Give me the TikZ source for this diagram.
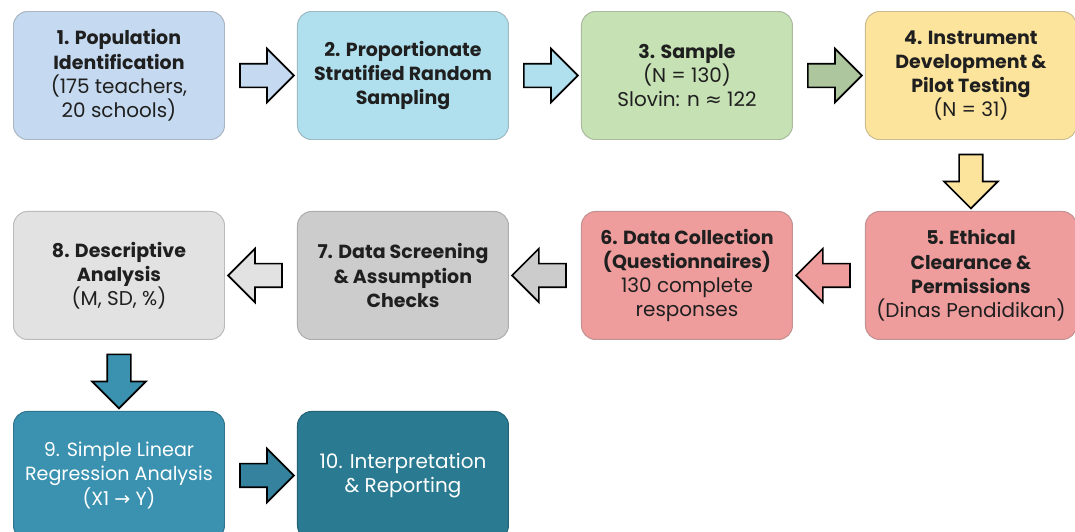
\documentclass[tikz,border=0pt]{standalone}
\usepackage{fontspec}
\setmainfont{Poppins}
\newfontfamily\symfont{DejaVu Sans}
\usetikzlibrary{shapes.arrows, positioning, calc}

\definecolor{popblue}{RGB}{197,218,240}
\definecolor{sampcyan}{RGB}{176,224,238}
\definecolor{sizegreen}{RGB}{198,225,180}
\definecolor{instyellow}{RGB}{253,228,156}
\definecolor{ethicred}{RGB}{238,156,156}
\definecolor{screengray}{RGB}{204,204,204}
\definecolor{descgray}{RGB}{226,226,226}
\definecolor{regteal}{RGB}{58,145,176}
\definecolor{repteal}{RGB}{42,122,145}

% bold heading lines are set a little smaller than the plain lines
\newcommand\hd[1]{{\fontsize{13.5}{17.2}\selectfont\bfseries #1}}

\begin{document}
\begin{tikzpicture}[
  stagebox/.style={draw, rounded corners=10pt, minimum width=5.275cm, minimum height=3.2cm,
    align=center, inner sep=2pt, line width=0.7pt, text=black!88,
    font=\fontsize{14.2}{17.2}\selectfont},
  flow/.style={single arrow, draw=black, line width=1.2pt, inner sep=0.275cm,
    minimum height=1.35cm, single arrow head extend=0.375cm},
  node distance=1.775cm and 1.8cm
]
  \fill[white] (-2.975,1.8875) rectangle (23.9,-11.3875);
  \useasboundingbox (-2.975,1.8875) rectangle (23.9,-11.3875);

  % Top row: sampling
  \node[stagebox, fill=popblue, draw=popblue!75!black!80] (p1)
    {\hd{1. Population}\\\hd{Identification}\\(175 teachers,\\20 schools)};
  \node[stagebox, fill=sampcyan, draw=sampcyan!75!black!80, right=of p1] (p2)
    {\hd{2. Proportionate}\\\hd{Stratified Random}\\\hd{Sampling}};
  \node[stagebox, fill=sizegreen, draw=sizegreen!75!black!80, right=of p2] (p3)
    {\hd{3. Sample}\\(N = 130)\\Slovin: n {\symfont ≈} 122};
  \node[stagebox, fill=instyellow, draw=instyellow!75!black!80, right=of p3] (p4)
    {\hd{4. Instrument}\\\hd{Development \&}\\\hd{Pilot Testing}\\(N = 31)};

  % Middle row: collection, runs right to left
  \node[stagebox, fill=ethicred, draw=ethicred!75!black!80, below=of p4] (p5)
    {\hd{5. Ethical}\\\hd{Clearance \&}\\\hd{Permissions}\\(Dinas Pendidikan)};
  \node[stagebox, fill=ethicred, draw=ethicred!75!black!80, left=of p5] (p6)
    {\hd{6. Data Collection}\\\hd{(Questionnaires)}\\130 complete\\responses};
  \node[stagebox, fill=screengray, draw=screengray!75!black!80, left=of p6] (p7)
    {\hd{7. Data Screening}\\\hd{\& Assumption}\\\hd{Checks}};
  \node[stagebox, fill=descgray, draw=descgray!75!black!80, left=of p7] (p8)
    {\hd{8. Descriptive}\\\hd{Analysis}\\(M, SD, \%)};

  % Bottom row: analysis
  \node[stagebox, fill=regteal, draw=regteal!80!black, text=white,
    font=\fontsize{13.6}{17.2}\selectfont, below=of p8] (p9)
    {9. Simple Linear\\Regression Analysis\\(X1 {\symfont →} Y)};
  \node[stagebox, fill=repteal, draw=repteal!80!black, text=white, right=of p9] (p10)
    {10. Interpretation\\\& Reporting};

  % Block arrows
  \node[flow, fill=popblue] (a12) at ($(p1.east)!0.5!(p2.west)$) {};
  \node[flow, fill=sampcyan] (a23) at ($(p2.east)!0.5!(p3.west)$) {};
  \node[flow, fill=sizegreen!88!black] (a34) at ($(p3.east)!0.5!(p4.west)$) {};
  \node[flow, fill=instyellow, shape border rotate=270] (a45) at ($(p4.south)!0.5!(p5.north)$) {};
  \node[flow, fill=ethicred, shape border rotate=180] (a56) at ($(p5.west)!0.5!(p6.east)$) {};
  \node[flow, fill=screengray, shape border rotate=180] (a67) at ($(p6.west)!0.5!(p7.east)$) {};
  \node[flow, fill=descgray, shape border rotate=180] (a78) at ($(p7.west)!0.5!(p8.east)$) {};
  \node[flow, fill=regteal, shape border rotate=270] (a89) at ($(p8.south)!0.5!(p9.north)$) {};
  \node[flow, fill=regteal!90!black] (a910) at ($(p9.east)!0.5!(p10.west)$) {};
\end{tikzpicture}
\end{document}
